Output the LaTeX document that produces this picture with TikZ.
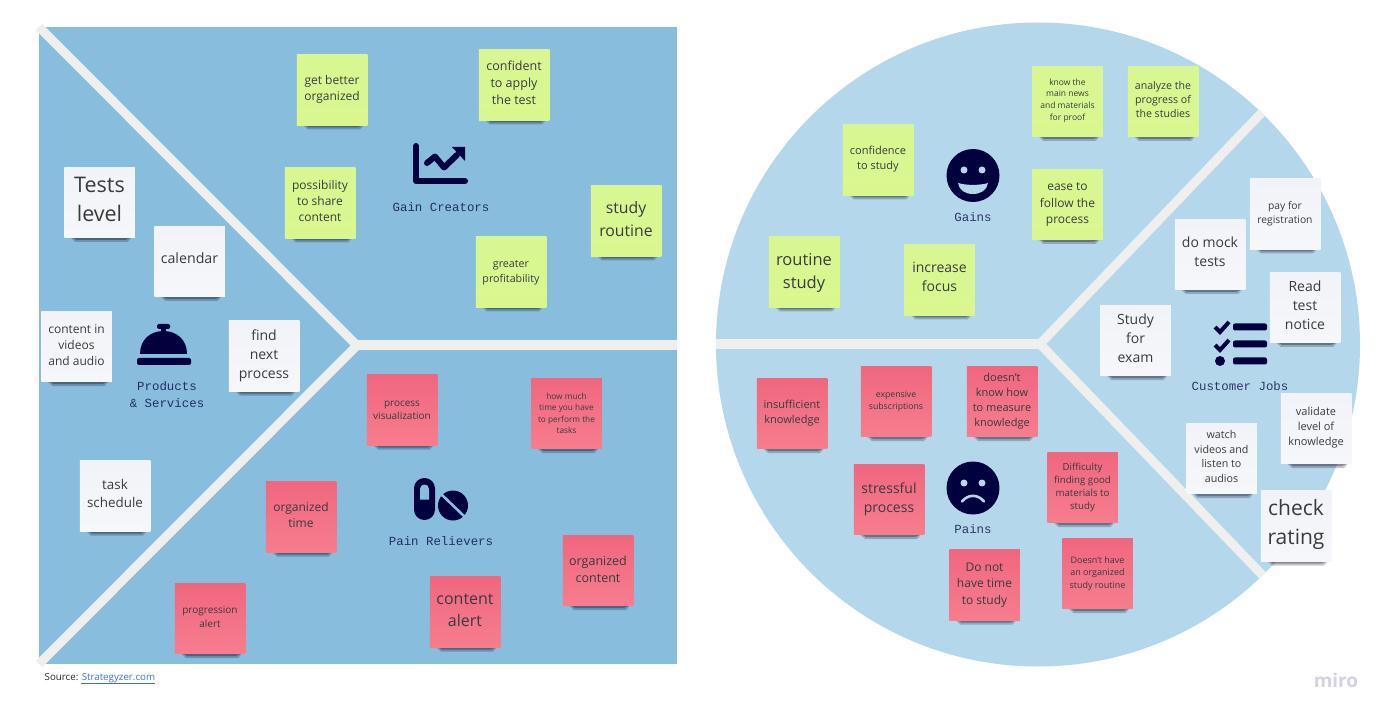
\documentclass[tikz,border=0pt]{standalone}
\usepackage{fontspec}
\setmainfont{Open Sans}
\newfontfamily\monolabel{Liberation Mono}
\definecolor{panelblue}{HTML}{89BDDD}
\definecolor{circleblue}{HTML}{B5D7EB}
\definecolor{barcol}{HTML}{F0EFF0}
\definecolor{navy}{HTML}{01013D}
\definecolor{whitetop}{HTML}{F1F3F8}
\definecolor{whitebot}{HTML}{F5F7FB}
\definecolor{greentop}{HTML}{D8F792}
\definecolor{greenbot}{HTML}{DAF78F}
\definecolor{pinktop}{HTML}{F0677F}
\definecolor{pinkbot}{HTML}{F67D8E}
\definecolor{notetext}{HTML}{3A3A40}
\definecolor{pinktext}{HTML}{54303E}
\definecolor{linkblue}{HTML}{3B73D9}
\definecolor{mirogrey}{HTML}{D3D4E0}
\tikzset{
  x=1pt,y=-1pt,
  notebase/.style={rectangle,minimum width=70.5pt,minimum height=70.5pt,inner sep=0pt},
  whitenote/.style={notebase,top color=whitetop,bottom color=whitebot},
  greennote/.style={notebase,top color=greentop,bottom color=greenbot},
  pinknote/.style={notebase,top color=pinktop,bottom color=pinkbot},
  notetxt/.style={inner sep=0pt,align=center,text=notetext},
  barline/.style={draw=barcol,line width=10pt,line cap=butt},
  iconline/.style={draw=navy,line cap=round,line join=round},
  caption/.style={font=\monolabel\fontsize{12.4}{17}\selectfont,text=navy!75!panelblue,align=center,inner sep=0pt},
}
% name, x, y, style, font size, text y offset, text
\newcommand{\sticky}[7]{%
  \begin{scope}[shift={(#2,#3)}]
    \fill[black!70!navy,opacity=.22] (-29,35) -- (32,35) -- (28,39.5) -- (-24,39.5) -- cycle;
    \fill[black!70!navy,opacity=.30] (-27,35) -- (31,35) -- (26,37.5) -- (-23,37.5) -- cycle;
    \node[#4] (#1) at (0,0) {};
    \node[notetxt,font=\fontsize{#5}{\fpeval{#5*1.36}}\selectfont] (#1t) at (0,#6) {#7};
  \end{scope}}
\begin{document}
\begin{tikzpicture}
\path[use as bounding box,fill=white] (0,0) rectangle (1390,719);
% left panel
\fill[panelblue] (39,27) rectangle (677,664);
\coordinate (lhub) at (357,345.5);
\coordinate (ltl) at (39,27);
\coordinate (lbl) at (39,664);
\coordinate (lr) at (677,345.5);
\draw[barline,line width=9pt] (ltl) -- (lhub) -- (lbl);
\draw[barline] (lhub) -- (lr);
% right circle
\coordinate (chub) at (1040,344);
\fill[circleblue] (1038,344.5) circle[radius=322pt];
\begin{scope}
  \clip (1038,344.5) circle[radius=322pt];
  \coordinate (cl) at (716,344);
  \coordinate (cur) at (1270,104);
  \coordinate (clr) at (1270,583);
  \draw[barline] (cl) -- (chub);
  \draw[barline,line width=9pt] (cur) -- (chub) -- (clr);
\end{scope}
% icons: bell
\fill[navy] (140,354) .. controls (140,340) and (150,331) .. (163.5,331) .. controls (177,331) and (187,340) .. (187,354) -- cycle;
\fill[navy,rounded corners=1.5pt] (157,324) rectangle (170,329);
\fill[navy] (161,328) rectangle (166,332);
\fill[navy,rounded corners=2pt] (137,358) rectangle (191,365);
% chart
\draw[iconline,line width=6pt] (416,146) -- (416,181) -- (465,181);
\draw[iconline,line width=6pt] (427,163) -- (435,156.5) -- (444,167.5) -- (457,155);
\fill[navy] (452,147) -- (465,147) -- (465,161) -- cycle;
% pills
\fill[navy,rounded corners=10.4pt] (414,478) rectangle (435,520);
\fill[panelblue] (420,499.5) -- (420,489) .. controls (420,483) and (429,483) .. (429,489) -- (429,499.5) -- cycle;
\fill[navy] (453,505.5) circle[radius=15pt];
\draw[panelblue,line width=2.6pt] (441,494) -- (466,518);
% smile
\fill[navy] (973,175.5) circle[radius=26.5pt];
\fill[circleblue] (964,170) circle[radius=3.5pt] (982,170) circle[radius=3.5pt];
\fill[circleblue] (958,183) .. controls (966,185.5) and (980,185.5) .. (988,183) .. controls (987,190) and (981,194) .. (973,194) .. controls (965,194) and (959,190) .. (958,183) -- cycle;
% frown
\fill[navy] (973,488) circle[radius=26.5pt];
\fill[circleblue] (964,483) circle[radius=3.5pt] (982,483) circle[radius=3.5pt];
\draw[circleblue,line width=2.6pt,line cap=round] (962,501.5) .. controls (968,494) and (978,494) .. (984,501.5);
% checklist
\draw[iconline,line width=4pt,line cap=butt,line join=miter] (1215,327) -- (1220,332) -- (1229,322);
\draw[iconline,line width=4pt,line cap=butt,line join=miter] (1215,345) -- (1220,350) -- (1229,340);
\fill[navy] (1220,361) circle[radius=5pt];
\fill[navy,rounded corners=2pt] (1233,323.5) rectangle (1267,330.5);
\fill[navy,rounded corners=2pt] (1233,340.5) rectangle (1267,347.5);
\fill[navy,rounded corners=2pt] (1233,357.5) rectangle (1267,364.5);
% captions
\node[caption] (capgc) at (441,207) {Gain Creators};
\node[caption] (capps) at (167,395) {Products\\\& Services};
\node[caption] (cappr) at (441,541) {Pain Relievers};
\node[caption,text=navy!75!circleblue] (capg) at (973,217) {Gains};
\node[caption,text=navy!75!circleblue] (capp) at (973,529.5) {Pains};
\node[caption,text=navy!75!circleblue] (capcj) at (1240,386.5) {Customer Jobs};
% products & services
\sticky{a1}{99.5}{202.5}{whitenote}{21.5}{-3}{Tests\\level}
\sticky{a2}{189.5}{261.5}{whitenote}{14.2}{-3}{calendar}
\sticky{a3}{76.5}{346.5}{whitenote}{12}{-1.5}{content in\\videos\\and audio}
\sticky{a4}{264}{356}{whitenote}{14}{-0.5}{find\\next\\process}
\sticky{a5}{115}{496}{whitenote}{13.4}{-2.5}{task\\schedule}
% gain creators
\sticky{b1}{332}{90}{greennote}{12}{-0.5}{get better\\organized}
\sticky{b2}{514}{85}{greennote}{12.5}{-2.5}{confident\\to apply\\the test}
\sticky{b3}{320}{203}{greennote}{12}{-2}{possibility\\to share\\content}
\sticky{b4}{626}{221}{greennote}{15.8}{-2}{study\\[1.5pt]routine}
\sticky{b5}{511}{272}{greennote}{10.7}{0.5}{greater\\profitability}
% pain relievers
\sticky{c1}{402}{410}{pinknote}{10}{0.5}{process\\visualization}
\sticky{c2}{566.5}{413.5}{pinknote}{8.3}{0}{how much\\time you have\\to perform the\\tasks}
\sticky{c3}{301}{517}{pinknote}{12}{-2}{organized\\time}
\sticky{c4}{210}{618.5}{pinknote}{10}{-1.5}{progression\\alert}
\sticky{c5}{465}{612}{pinknote}{16}{-2}{content\\alert}
\sticky{c6}{598}{570.5}{pinknote}{12.5}{-1.5}{organized\\content}
% gains
\sticky{d1}{878}{160}{greennote}{11}{-1}{confidence\\to study}
\sticky{d2}{1067.5}{101.5}{greennote}{8.5}{-1}{know the\\main news\\and materials\\for proof}
\sticky{d3}{1163}{101.5}{greennote}{10.6}{-2}{analyze the\\progress of\\the studies}
\sticky{d4}{1067.5}{204.5}{greennote}{12}{0}{ease to\\follow the\\process}
\sticky{d5}{804}{272}{greennote}{16.5}{1}{routine\\study}
\sticky{d6}{939.5}{280}{greennote}{14}{-3}{increase\\focus}
% customer jobs
\sticky{e1}{1285}{214}{whitenote}{10.3}{-0.5}{pay for\\registration}
\sticky{e2}{1210}{254.5}{whitenote}{14}{-2.5}{do mock\\tests}
\sticky{e3}{1305}{307.5}{whitenote}{14}{-2.5}{Read\\test\\notice}
\sticky{e4}{1135.5}{340.5}{whitenote}{14}{-2.5}{Study\\for\\exam}
\sticky{e5}{1316}{428.5}{whitenote}{11}{-1}{validate\\level of\\knowledge}
\sticky{e6}{1221.5}{458.5}{whitenote}{10.7}{-2}{watch\\videos and\\listen to\\audios}
\sticky{e7}{1296}{526}{whitenote}{21}{-1.5}{check\\rating}
% pains
\sticky{f1}{792}{413.5}{pinknote}{11}{0}{insufficient\\knowledge}
\sticky{f2}{896}{401.5}{pinknote}{8.7}{0}{expensive\\subscriptions}
\sticky{f3}{1002}{401.5}{pinknote}{11}{0}{doesn't\\know how\\to measure\\knowledge}
\sticky{f4}{889}{499.5}{pinknote}{14}{-0.5}{stressful\\process}
\sticky{f5}{1082.5}{487.5}{pinknote}{9.7}{0}{Difficulty\\finding good\\materials to\\study}
\sticky{f6}{984.5}{585}{pinknote}{12}{0}{Do not\\have time\\to study}
\sticky{f7}{1097.5}{573.5}{pinknote}{9}{0}{Doesn't have\\an organized\\study routine}
% footer
\node[anchor=west,inner sep=0pt,font=\fontsize{9.75}{11}\selectfont,text=black!85] (src) at (44.5,678) {Source: \textcolor{linkblue}{Strategyzer.com}};
\draw[linkblue,line width=.5pt] (81,683.5) -- (155,683.5);
\node[inner sep=0pt,text=mirogrey,font=\fontsize{19}{19}\fontseries{sb}\selectfont] (miro) at (1336,680) {miro};
\end{tikzpicture}
\end{document}
